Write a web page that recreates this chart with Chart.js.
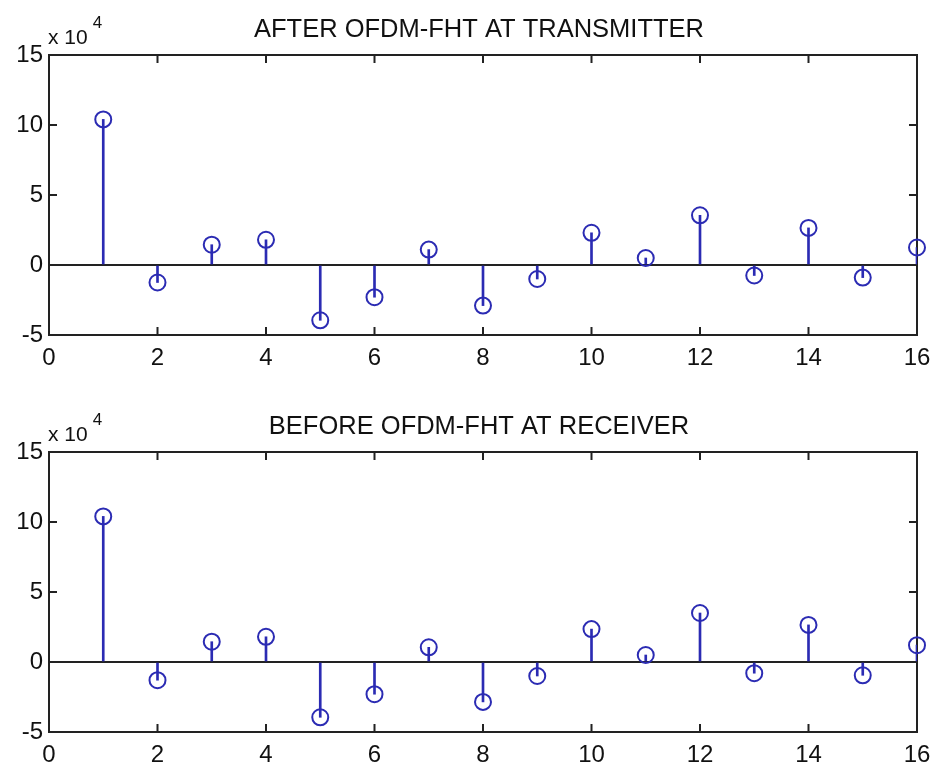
<!DOCTYPE html>
<html>
<head>
<meta charset="utf-8">
<script src="https://cdn.jsdelivr.net/npm/chart.js@4.4.0/dist/chart.umd.min.js"></script>
<style>
    html, body { margin: 0; padding: 0; background: #ffffff; overflow: hidden; }
    .plot { position: absolute; left: 0; width: 933px; height: 373px; }
</style>
</head>
<body>
<div class="plot" style="top:0"><canvas id="txChart"></canvas></div>
<div class="plot" style="top:397px"><canvas id="rxChart"></canvas></div>
<script>
// ── Data ──────────────────────────────────────────────────────────────────────
const sampleIndex = [1, 2, 3, 4, 5, 6, 7, 8, 9, 10, 11, 12, 13, 14, 15, 16];
const afterTransmitter = [104000, -12500, 14500, 18000, -39500, -23000, 11000, -29000,
                          -10000, 23000, 5000, 35500, -7500, 26500, -9000, 12500];
const beforeReceiver = [104000, -13000, 14500, 18000, -39500, -23000, 10500, -28500,
                        -10000, 23500, 5000, 35000, -8000, 26500, -9500, 12000];
const xTickValues = [0, 2, 4, 6, 8, 10, 12, 14, 16];
const yTickValues = [-50000, 0, 50000, 100000, 150000];
const yExponent = 4;

const STEM_BLUE = '#2b2bb3';
const AXIS_COLOR = '#222222';
const FONT = 'Liberation Sans, Arial, sans-serif';

// ── MATLAB-style frame: box, inward ticks, title, exponent ───────────────────
const matlabFrame = {
    id: 'matlabFrame',
    beforeDatasetsDraw(chart) {
        const { ctx, chartArea: a, scales } = chart;
        const tick = 8;
        ctx.save();
        ctx.strokeStyle = AXIS_COLOR;
        ctx.lineWidth = 2;
        ctx.strokeRect(a.left, a.top, a.right - a.left, a.bottom - a.top);
        ctx.beginPath();
        scales.x.ticks.forEach(t => {
            const px = scales.x.getPixelForValue(t.value);
            ctx.moveTo(px, a.bottom); ctx.lineTo(px, a.bottom - tick);
            ctx.moveTo(px, a.top); ctx.lineTo(px, a.top + tick);
        });
        scales.y.ticks.forEach(t => {
            const py = scales.y.getPixelForValue(t.value);
            ctx.moveTo(a.left, py); ctx.lineTo(a.left + tick, py);
            ctx.moveTo(a.right, py); ctx.lineTo(a.right - tick, py);
        });
        ctx.stroke();
        ctx.restore();
    },
    afterDraw(chart, args, opts) {
        const { ctx, chartArea: a } = chart;
        ctx.save();
        ctx.fillStyle = '#111111';
        ctx.textBaseline = 'alphabetic';
        ctx.textAlign = 'center';
        ctx.font = '25.5px ' + FONT;
        ctx.fillText(opts.title, 479, 37);
        ctx.textAlign = 'left';
        ctx.font = '21px ' + FONT;
        ctx.fillText('x 10', a.left - 1, 44);
        const w = ctx.measureText('x 10').width;
        ctx.font = '17px ' + FONT;
        ctx.fillText(String(yExponent), a.left + w + 4, 28);
        ctx.restore();
    }
};

function noScalePadding(scale) {
    scale.paddingLeft = 0;
    scale.paddingRight = 0;
    scale.paddingTop = 0;
    scale.paddingBottom = 0;
}

function buildStemChart(canvasId, values, title) {
    const points = sampleIndex.map((x, i) => ({ x: x, y: values[i] }));
    return new Chart(document.getElementById(canvasId), {
        type: 'bar',
        data: {
            datasets: [
                {
                    type: 'scatter',
                    data: points,
                    pointStyle: 'circle',
                    pointRadius: 8,
                    borderColor: STEM_BLUE,
                    borderWidth: 2,
                    backgroundColor: 'rgba(0,0,0,0)',
                    showLine: false,
                    clip: false,
                    order: 1
                },
                {
                    type: 'bar',
                    data: points,
                    barThickness: 2,
                    backgroundColor: STEM_BLUE,
                    borderWidth: 0,
                    order: 2
                }
            ]
        },
        options: {
            responsive: true,
            maintainAspectRatio: false,
            animation: false,
            events: [],
            layout: { autoPadding: false, padding: { left: 0, right: 16, top: 55, bottom: 0 } },
            plugins: {
                legend: { display: false },
                tooltip: { enabled: false },
                matlabFrame: { title: title }
            },
            scales: {
                x: {
                    type: 'linear',
                    min: 0,
                    max: 16,
                    offset: false,
                    afterBuildTicks: scale => { scale.ticks = xTickValues.map(v => ({ value: v })); },
                    afterFit: scale => { scale.height = 38; noScalePadding(scale); },
                    grid: { display: false, offset: false, drawTicks: false },
                    border: { display: false },
                    ticks: {
                        autoSkip: false,
                        maxRotation: 0,
                        padding: 9,
                        color: '#111111',
                        font: { family: FONT, size: 24 }
                    }
                },
                y: {
                    type: 'linear',
                    min: -50000,
                    max: 150000,
                    afterBuildTicks: scale => { scale.ticks = yTickValues.map(v => ({ value: v })); },
                    afterFit: scale => { scale.width = 49; noScalePadding(scale); },
                    grid: {
                        drawTicks: false,
                        lineWidth: 2,
                        color: c => (c.tick && c.tick.value === 0) ? AXIS_COLOR : 'rgba(0,0,0,0)'
                    },
                    border: { display: false },
                    ticks: {
                        padding: 6,
                        color: '#111111',
                        font: { family: FONT, size: 24 },
                        callback: v => String(v / Math.pow(10, yExponent))
                    }
                }
            }
        },
        plugins: [matlabFrame]
    });
}

buildStemChart('txChart', afterTransmitter, 'AFTER OFDM-FHT AT TRANSMITTER');
buildStemChart('rxChart', beforeReceiver, 'BEFORE OFDM-FHT AT RECEIVER');
</script>
</body>
</html>
